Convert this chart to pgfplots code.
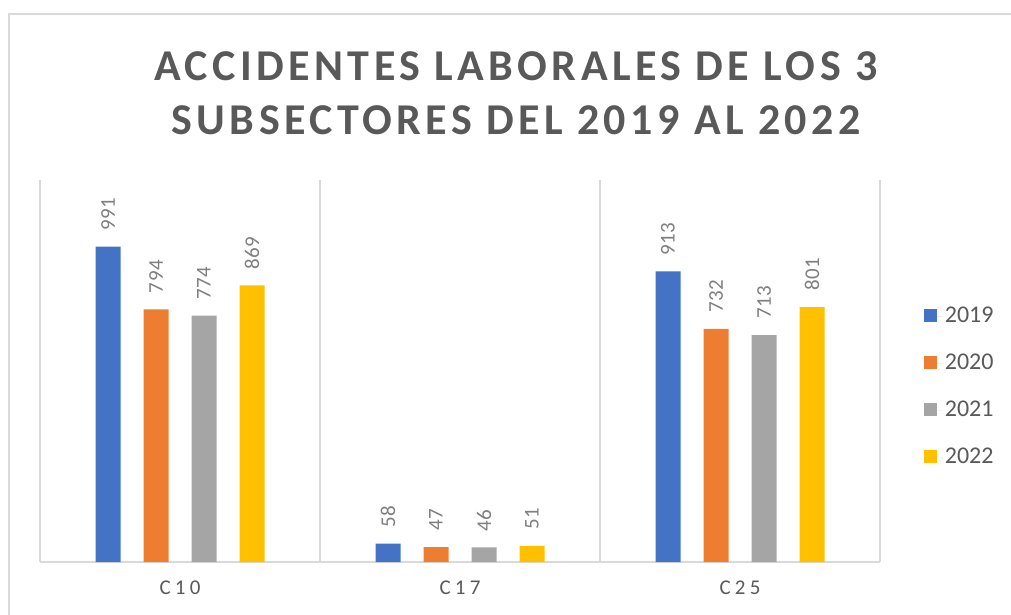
\documentclass[border=0pt]{standalone}
\usepackage{pgfplots}
\pgfplotsset{compat=1.18}
\usepackage{fontspec}
\setmainfont{Carlito}
\newfontfamily\titlefont[LetterSpace=10]{Carlito}
\newfontfamily\catfont[LetterSpace=20]{Carlito}
\newfontfamily\labfont[LetterSpace=2]{Carlito}
\definecolor{cA}{HTML}{4472C4}
\definecolor{cB}{HTML}{ED7D31}
\definecolor{cC}{HTML}{A5A5A5}
\definecolor{cD}{HTML}{FFC000}
\definecolor{txt}{HTML}{595959}
\definecolor{lab}{HTML}{7F7F7F}
\definecolor{grd}{HTML}{D9D9D9}
\begin{document}
\begin{tikzpicture}[x=1pt,y=1pt]
\useasboundingbox (0,0) rectangle (1011,-614);
\draw[color=grd, line width=1.5pt] (9,-620) -- (9,-14) -- (1020,-14);
\node[font=\titlefont\bfseries\fontsize{44}{54}\selectfont, text=txt, align=center] at (516,-93) {ACCIDENTES LABORALES DE LOS 3\\SUBSECTORES DEL 2019 AL 2022};
\begin{axis}[
  at={(40pt,-562pt)}, anchor=south west,
  scale only axis, width=840pt, height=382pt,
  xmin=-0.5, xmax=2.5, ymin=0, ymax=1200,
  axis x line*=bottom, axis y line=none,
  x axis line style={draw=grd, line width=1.5pt},
  ytick=\empty,
  xtick={0,1,2}, xticklabels={C10,C17,C25},
  major tick length=0pt, minor tick length=0pt,
  minor xtick={-0.5,0.5,1.5,2.5},
  xminorgrids=true,
  minor x grid style={draw=grd, line width=1.5pt},
  xticklabel style={font=\catfont\fontsize{21}{25}\selectfont, text=txt, yshift=-15pt},
  ybar=23pt, bar width=25pt,
  /pgf/number format/assume math mode=true,
  nodes near coords,
  every node near coord/.append style={rotate=90, anchor=west, font=\labfont\fontsize{21}{25}\selectfont, text=lab, inner xsep=16pt},
  legend style={at={(1.052,0.46)}, anchor=west, draw=none, fill=none, font=\fontsize{24}{28}\selectfont, text=txt, row sep=26pt, inner sep=0pt, legend cell align=left},
  legend image code/.code={\fill[#1] (0pt,-6.5pt) rectangle (13pt,6.5pt); \path (0pt,0pt) rectangle (19pt,0pt);},
  clip=false,
]
\addplot[fill=cA, draw=none] coordinates {(0,991) (1,58) (2,913)};
\addplot[fill=cB, draw=none] coordinates {(0,794) (1,47) (2,732)};
\addplot[fill=cC, draw=none] coordinates {(0,774) (1,46) (2,713)};
\addplot[fill=cD, draw=none] coordinates {(0,869) (1,51) (2,801)};
\legend{2019,2020,2021,2022}
\end{axis}
\end{tikzpicture}
\end{document}
